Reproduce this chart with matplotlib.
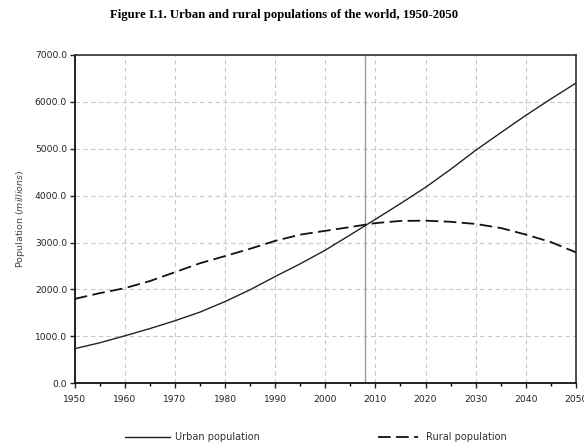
import numpy as np
import matplotlib
matplotlib.use("Agg")
import matplotlib.pyplot as plt
from matplotlib.ticker import MultipleLocator, FormatStrFormatter

# Data (millions) at 5-year steps
years = [1950, 1955, 1960, 1965, 1970, 1975, 1980, 1985, 1990, 1995, 2000,
         2005, 2010, 2015, 2020, 2025, 2030, 2035, 2040, 2045, 2050]
urban = [737, 862, 1010, 1165, 1332, 1516, 1741, 1993, 2275, 2546, 2837,
         3164, 3495, 3830, 4176, 4560, 4965, 5340, 5710, 6060, 6398]
rural = [1798, 1920, 2027, 2178, 2367, 2558, 2711, 2867, 3035, 3168, 3249,
         3330, 3414, 3460, 3466, 3442, 3396, 3310, 3170, 3010, 2791]
marker_year = 2008
title = "Figure I.1. Urban and rural populations of the world, 1950-2050"

plt.rcParams['font.family'] = ['DejaVu Sans']
plt.rcParams['mathtext.fontset'] = 'dejavusans'

fig = plt.figure(figsize=(5.84, 4.43), dpi=100)
ax = fig.add_axes([0.128, 0.135, 0.858, 0.741])

# Grid and the 2008 reference line
ax.grid(True, which='major', color='#c8c8c8', linestyle=(0, (4, 3)), linewidth=0.8)
ax.axvline(marker_year, color='#999999', linewidth=1.0, zorder=2)

# Series
l_urban, = ax.plot(years, urban, color='#222222', linewidth=1.0, zorder=3)
l_rural, = ax.plot(years, rural, color='#111111', linewidth=1.3, zorder=3,
                   dashes=(7, 3))

ax.set_xlim(1950, 2050)
ax.set_ylim(0, 7000)
ax.xaxis.set_major_locator(MultipleLocator(10))
ax.xaxis.set_minor_locator(MultipleLocator(5))
ax.yaxis.set_major_locator(MultipleLocator(1000))
ax.yaxis.set_major_formatter(FormatStrFormatter('%.1f'))

ax.tick_params(axis='both', which='major', labelsize=6.6, length=3.5,
               width=1.0, direction='out', colors='#222222')
ax.tick_params(axis='x', which='major', pad=5)
ax.tick_params(axis='y', which='major', pad=2)
ax.tick_params(axis='x', which='minor', length=2.5, width=1.0, direction='out')
for side in ['left', 'bottom']:
    ax.spines[side].set_linewidth(1.3)
    ax.spines[side].set_color('#111111')
for side in ['top', 'right']:
    ax.spines[side].set_linewidth(1.2)
    ax.spines[side].set_color('#333333')

ax.set_ylabel(r'Population ($\it{millions}$)', fontsize=6.8, color='#444444',
              labelpad=6)

fig.text(0.487, 0.966, title, ha='center', va='center', fontsize=9.2,
         fontweight='bold', family='Liberation Serif')

leg1 = fig.legend([l_urban], ['Urban population'], loc='center left',
                  bbox_to_anchor=(125 / 584, 0.0135), frameon=False,
                  fontsize=7, handlelength=4.6, handletextpad=0.5,
                  borderpad=0, borderaxespad=0)
leg2 = fig.legend([l_rural], ['Rural population'], loc='center left',
                  bbox_to_anchor=(378 / 584, 0.0135), frameon=False,
                  fontsize=7, handlelength=4.1, handletextpad=0.8,
                  borderpad=0, borderaxespad=0)
for leg in (leg1, leg2):
    for t in leg.get_texts():
        t.set_color('#333333')

plt.savefig('out.png', dpi=100)
